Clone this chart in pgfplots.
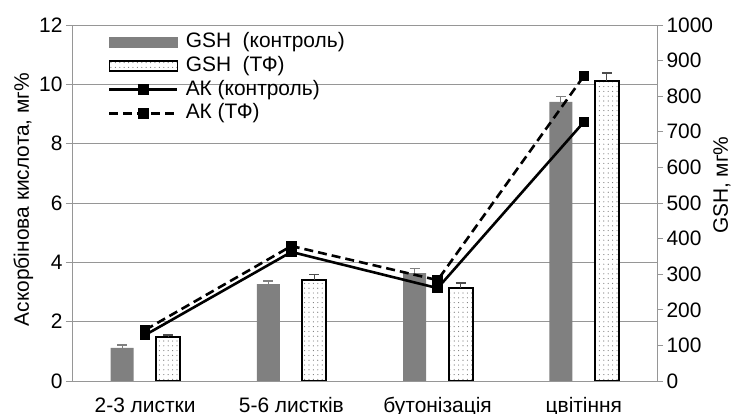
\documentclass[border=0pt]{standalone}
\usepackage{fontspec}
\setmainfont{Liberation Sans}
\usepackage{pgfplots}
\usepackage{pgfplotstable}
\pgfplotsset{compat=1.18}
\usetikzlibrary{patterns}

\definecolor{barGray}{RGB}{128,128,128}
\definecolor{gridGray}{RGB}{150,150,150}
\definecolor{dotGray}{RGB}{120,120,120}

% sparse dots for the second bar series
\pgfdeclarepatternformonly{sparsedots}{\pgfqpoint{-1pt}{-1pt}}{\pgfqpoint{5pt}{5pt}}{\pgfqpoint{4.4bp}{4.8bp}}{%
  \pgfpathcircle{\pgfqpoint{1pt}{1pt}}{0.6pt}\pgfusepath{fill}}

% GSH, mg% (right axis)
\pgfplotstableread{
c   ctl  ctlerr  tf   tferr
1   93   8       124  5
2   272  9       284  16
3   303  12      261  14
4   784  16      843  22
}\gsh

% ascorbic acid, mg% (left axis)
\pgfplotstableread{
c   ctl   ctlerr  tf     tferr
1   1.55  0.12    1.72   0.12
2   4.35  0.15    4.55   0.15
3   3.13  0.15    3.40   0.12
4   8.73  0.10    10.28  0.12
}\ak

\newcommand\chartfont{\fontsize{21}{24}\selectfont}

\begin{document}
\begin{tikzpicture}
\path[use as bounding box] (-72bp,-33bp) rectangle (659bp,381bp);

\pgfplotsset{
  every axis/.append style={
    scale only axis, width=585bp, height=356bp,
    xmin=0.5, xmax=4.5,
    /pgf/number format/assume math mode=true,
    /pgf/number format/1000 sep={},
    tick label style={font=\chartfont},
    label style={font=\chartfont},
  }
}

% left axis: frame, grid, category labels
\begin{axis}[
    ymin=0, ymax=12,
    ytick={0,2,...,12},
    ytick pos=left,
    axis line style={gridGray},
    every tick/.style={gridGray, line width=0.8bp},
    tick align=outside, major tick length=6bp,
    ymajorgrids, grid style={gridGray, line width=0.8bp},
    xtick={1,2,3,4},
    xticklabels={2-3 листки, 5-6 листків, бутонізація, цвітіння},
    xticklabel style={yshift=-7bp},
    xtick pos=bottom,
    major x tick style={draw=none},
    extra x ticks={0.5,1.5,2.5,3.5,4.5},
    extra x tick labels={},
    extra x tick style={grid=none, major x tick style={gridGray, line width=0.8bp}},
    ylabel={Аскорбінова кислота, мг\%},
    ylabel style={at={(axis description cs:-0.083,0.51)}, anchor=center},
]
\end{axis}

% right axis: GSH bars
\begin{axis}[
    ymin=0, ymax=1000,
    ytick={0,100,...,1000},
    axis y line*=right,
    axis x line=none,
    axis line style={gridGray},
    every tick/.style={gridGray, line width=0.8bp},
    tick align=outside, major tick length=6bp,
    ylabel={GSH, мг\%},
    ylabel style={at={(axis description cs:1.111,0.55)}, anchor=center},
]
\addplot[ybar, bar width=23bp, bar shift=0pt, fill=barGray, draw=none,
    error bars/.cd, y dir=plus, y explicit,
    error bar style={barGray, line width=1.2bp},
    error mark options={rotate=90, mark size=5bp, barGray, line width=1.2bp}]
    table[x expr=\thisrow{c}-0.1573, y=ctl, y error=ctlerr] {\gsh};
\addplot[ybar, bar width=24bp, bar shift=0pt, fill=white, draw=black, line width=1.9bp,
    postaction={pattern=sparsedots, pattern color=dotGray},
    error bars/.cd, y dir=plus, y explicit,
    error bar style={black!70, line width=1.2bp},
    error mark options={rotate=90, mark size=5bp, black!70, line width=1.2bp}]
    table[x expr=\thisrow{c}+0.1573, y=tf, y error=tferr] {\gsh};
\end{axis}

% ascorbic acid lines and legend
\begin{axis}[
    ymin=0, ymax=12,
    hide axis,
    legend style={at={(axis description cs:0.0615,0.979)}, anchor=north west,
        draw=none, fill=none, font=\chartfont,
        row sep=4.7bp, column sep=7bp, inner sep=0pt,
        nodes={inner sep=0pt, text height=15bp, text depth=4bp}},
    legend cell align=left,
    legend image code/.code={%
        \draw[mark repeat=2, mark phase=2, #1]
        plot coordinates {(0bp,0bp) (34bp,0bp) (68bp,0bp)};},
]
\addlegendimage{legend image code/.code={\fill[barGray] (0bp,-5bp) rectangle (68bp,5bp);}}
\addlegendentry{GSH\ \ (контроль)}
\addlegendimage{legend image code/.code={\draw[line width=1.6bp, fill=white,
    postaction={pattern=sparsedots, pattern color=dotGray}] (0bp,-5bp) rectangle (68bp,5bp);}}
\addlegendentry{GSH\ \ (ТФ)}

\addplot[black, line width=2.6bp, mark=square*, mark size=4bp,
    error bars/.cd, y dir=both, y explicit,
    error bar style={black, line width=1bp},
    error mark options={rotate=90, mark size=4bp, black, line width=1bp}]
    table[x=c, y=ctl, y error=ctlerr] {\ak};
\addlegendentry{АК (контроль)}
\addplot[black, line width=2.6bp, dash pattern=on 9bp off 5bp,
    mark=square*, mark size=4bp, mark options={solid},
    error bars/.cd, y dir=both, y explicit,
    error bar style={black, solid, line width=1bp},
    error mark options={rotate=90, mark size=4bp, black, solid, line width=1bp}]
    table[x=c, y=tf, y error=tferr] {\ak};
\addlegendentry{АК (ТФ)}
\end{axis}
\end{tikzpicture}
\end{document}
